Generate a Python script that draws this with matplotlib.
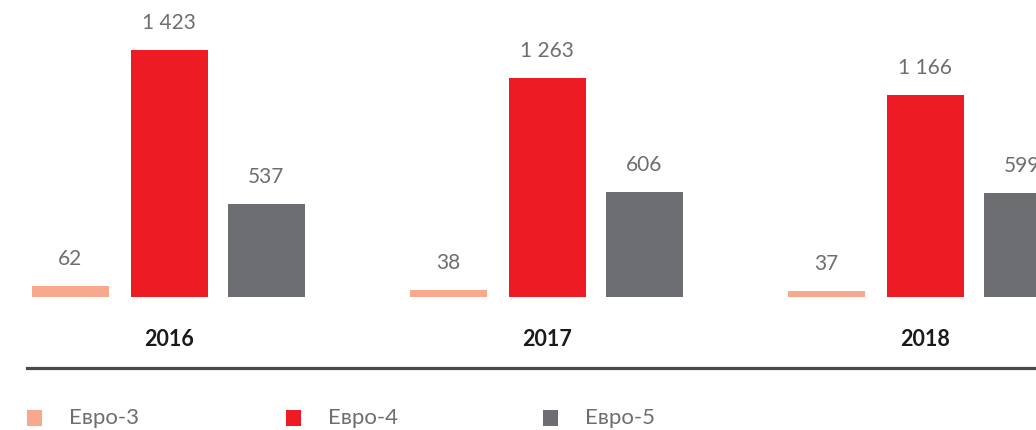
import matplotlib
matplotlib.use("Agg")
import matplotlib.pyplot as plt
from matplotlib.patches import Rectangle
from matplotlib.lines import Line2D

years = ["2016", "2017", "2018"]
series_names = ["Евро-3", "Евро-4", "Евро-5"]
euro3 = [62, 38, 37]
euro4 = [1423, 1263, 1166]
euro5 = [537, 606, 599]
colors = ["#F8A98D", "#ED1C24", "#6D6E71"]

plt.rcParams['font.family'] = ['Lato', 'DejaVu Sans']

W, H = 1036, 430
fig = plt.figure(figsize=(W / 100, H / 100), dpi=100)
base_px = 297
ax = fig.add_axes([0, (H - base_px) / H, 1, base_px / H])
group_px = 378.0
ax.set_xlim(-169 / group_px, (W - 169) / group_px)
ax.set_ylim(0, base_px / 0.1736)
ax.axis("off")

offsets = [-99 / group_px, 0.0, 97 / group_px]
width = 77 / group_px
label_color = "#6D6E71"

for si, vals in enumerate([euro3, euro4, euro5]):
    xs = [i + offsets[si] for i in range(len(years))]
    ax.bar(xs, vals, width=width, color=colors[si], linewidth=0)
    for x, v in zip(xs, vals):
        ax.annotate(f"{v:,}".replace(",", " "), (x, v), xytext=(0, 17),
                    textcoords="offset pixels", ha="center", va="bottom",
                    fontsize=15, color=label_color, annotation_clip=False)

for i, y in enumerate(years):
    ax.annotate(y, (i, 0), xytext=(0, -42), textcoords="offset pixels",
                ha="center", va="center", fontsize=15.5, fontweight="bold",
                color="#1a1a1a", annotation_clip=False)

fig.add_artist(Line2D([27 / W, 1.0], [(H - 368) / H] * 2, color="#4a4a4a",
                      linewidth=2.3, transform=fig.transFigure))

leg_x = [27, 286, 543]
for name, c, lx in zip(series_names, colors, leg_x):
    fig.add_artist(Rectangle((lx / W, (H - 426) / H), 15 / W, 16 / H,
                             color=c, transform=fig.transFigure, linewidth=0))
    fig.text((lx + 42) / W, (H - 418) / H, name, ha="left", va="center",
             fontsize=16, color=label_color)

fig.savefig("out.png", dpi=100)
